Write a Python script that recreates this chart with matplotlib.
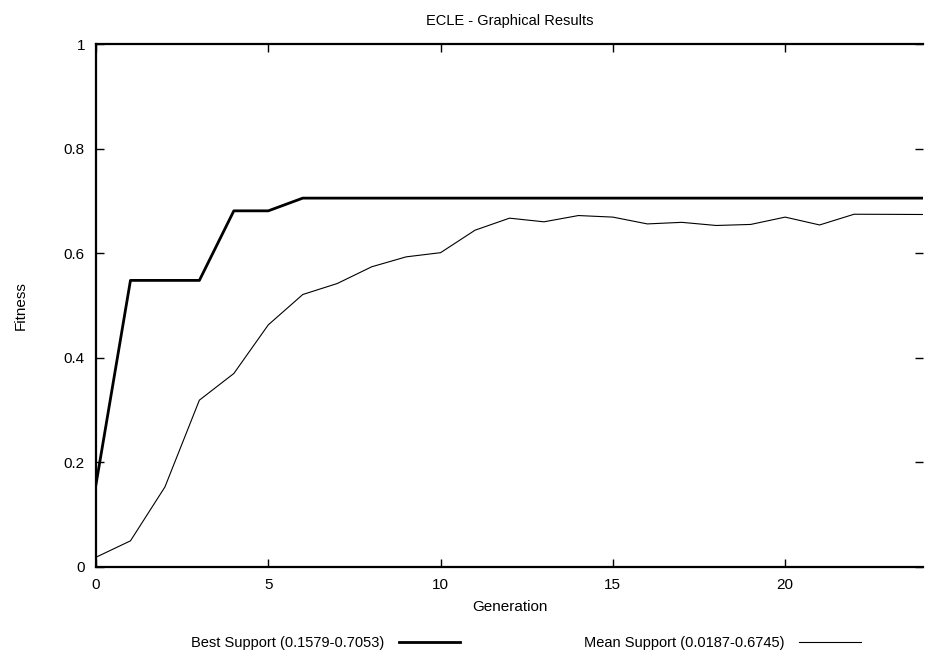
import matplotlib
matplotlib.use("Agg")
import matplotlib.pyplot as plt

plt.rcParams['font.family'] = ['Liberation Sans', 'DejaVu Sans']

generation = list(range(25))
best = [0.1579, 0.548, 0.548, 0.548, 0.681, 0.681] + [0.7053] * 19
mean = [0.0187, 0.050, 0.153, 0.319, 0.370, 0.463, 0.521, 0.542, 0.574, 0.593,
        0.601, 0.644, 0.667, 0.660, 0.672, 0.669, 0.656, 0.659, 0.653, 0.655,
        0.669, 0.654, 0.6745, 0.6743, 0.674]
best_label = "Best Support (0.1579-0.7053)"
mean_label = "Mean Support (0.0187-0.6745)"

fig = plt.figure(figsize=(9.25, 6.57), dpi=100)
ax = fig.add_axes([96/925, 90/657, 827/925, 523/657])

ax.plot(generation, best, color='black', lw=2.0, label=best_label)
ax.plot(generation, mean, color='black', lw=0.8, label=mean_label)

ax.set_xlim(0, 24)
ax.set_ylim(0, 1)
ax.set_xticks([0, 5, 10, 15, 20])
ax.set_yticks([0, 0.2, 0.4, 0.6, 0.8, 1])
ax.set_yticklabels(["0", "0.2", "0.4", "0.6", "0.8", "1"])
ax.tick_params(direction='in', length=6, width=1, top=True, right=True,
               labelsize=11, pad=8)
for s in ['left', 'bottom', 'top']:
    ax.spines[s].set_linewidth(1.6)
ax.spines['right'].set_visible(False)

ax.set_title("ECLE - Graphical Results", fontsize=10.5, pad=14)
ax.set_xlabel("Generation", fontsize=11, labelpad=6)
ax.set_ylabel("Fitness", fontsize=11, labelpad=26)

ax.legend(loc='upper left', bbox_to_anchor=(82/827, -56/523), ncol=2,
          frameon=False, markerfirst=False, handlelength=4.2,
          columnspacing=8.5, handletextpad=1.0, fontsize=10.5)

fig.savefig("out.png", dpi=100)
